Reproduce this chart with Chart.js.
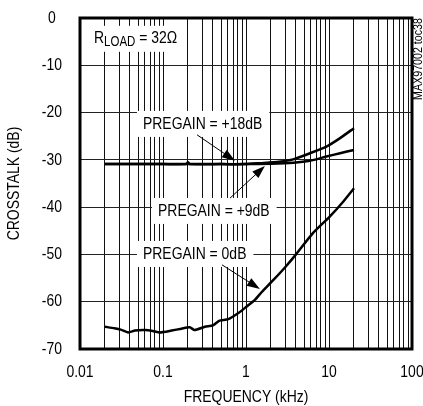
<!DOCTYPE html>
<html>
<head>
<meta charset="utf-8">
<script src="https://cdn.jsdelivr.net/npm/chart.js@4.4.0/dist/chart.umd.min.js"></script>
<style>
  html, body { margin: 0; padding: 0; background: #fff; }
  canvas { display: block; }
</style>
</head>
<body>
<canvas id="crosstalkChart" width="423" height="406"></canvas>
<script>
// Crosstalk vs frequency (kHz, dB)
const freqGain0 = [0.02, 0.026, 0.031, 0.038, 0.046, 0.061, 0.075, 0.092, 0.127, 0.167, 0.21, 0.24, 0.32, 0.40, 0.48, 0.61, 0.81, 1.02, 1.28, 1.54, 2.14, 3.0, 3.96, 6.4, 10.2, 14.9, 20];
const crosstalkGain0 = [-65.3, -65.6, -65.9, -66.5, -66.1, -66.0, -66.2, -66.5, -66.1, -65.7, -65.4, -66.0, -65.3, -65.0, -64.0, -63.7, -62.4, -61.0, -59.6, -58.0, -55.4, -52.6, -50.1, -45.5, -42.0, -38.8, -36.0];

const freqGain9 = [0.02, 0.05, 0.1, 0.2, 0.5, 1, 2, 3.7, 5.9, 9.3, 13.6, 20];
const crosstalkGain9 = [-30.9, -30.9, -30.9, -30.9, -30.9, -30.9, -30.8, -30.6, -30.2, -29.3, -28.6, -27.9];

const freqGain18 = [0.02, 0.05, 0.1, 0.19, 0.2, 0.21, 0.5, 1, 1.47, 2.5, 3.7, 5.9, 9.3, 13.6, 20];
const crosstalkGain18 = [-30.9, -30.9, -30.9, -30.9, -30.5, -30.9, -30.9, -30.9, -30.7, -30.4, -29.9, -28.6, -27.2, -25.4, -23.3];

// axis ticks
const xDecades = [0.01, 0.1, 1, 10, 100];
const xTickLabels = ['0.01', '0.1', '1', '10', '100'];
const yTickValues = [0, -10, -20, -30, -40, -50, -60, -70];

const FONT = "'Liberation Sans', Arial, sans-serif";
const SQUEEZE = 0.82; // no narrow face installed, squeeze Liberation Sans like Arial Narrow

// gridlines at 1..9 of every decade
const xGridValues = [];
for (let i = 0; i < xDecades.length - 1; i++) {
    for (let k = 1; k <= 9; k++) {
        xGridValues.push(xDecades[i] * k);
    }
}
xGridValues.push(xDecades[xDecades.length - 1]);

function toPoints(xs, ys) {
    return xs.map((x, i) => ({ x: x, y: ys[i] }));
}

// curve callouts, anchored in data units (kHz, dB)
const callouts = [
    { text: 'PREGAIN = +18dB', at: [0.0574, -22.4], tail: [0.257, -24.7], tip: [0.736, -30.2] },
    { text: 'PREGAIN = +9dB', at: [0.0871, -40.8], tail: [0.641, -38.1], tip: [1.69, -31.3] },
    { text: 'PREGAIN = 0dB', at: [0.0574, -49.9], tail: [0.514, -52.2], tip: [1.47, -57.3] }
];

function drawArrow(ctx, x1, y1, x2, y2) {
    const ang = Math.atan2(y2 - y1, x2 - x1);
    const len = 13, half = 4.5;
    ctx.beginPath();
    ctx.moveTo(x1, y1);
    ctx.lineTo(x2 - len * 0.8 * Math.cos(ang), y2 - len * 0.8 * Math.sin(ang));
    ctx.stroke();
    ctx.beginPath();
    ctx.moveTo(x2, y2);
    ctx.lineTo(x2 - len * Math.cos(ang) + half * Math.sin(ang), y2 - len * Math.sin(ang) - half * Math.cos(ang));
    ctx.lineTo(x2 - len * Math.cos(ang) - half * Math.sin(ang), y2 - len * Math.sin(ang) + half * Math.cos(ang));
    ctx.closePath();
    ctx.fill();
}

function whiteBox(ctx, x, y, w) {
    ctx.fillStyle = '#fff';
    ctx.fillRect(x - 6, y - 13, w + 13, 26);
    ctx.fillStyle = '#000';
}

const annotationPlugin = {
    id: 'annotations',
    afterDatasetsDraw(chart) {
        const ctx = chart.ctx;
        const xs = chart.scales.x, ys = chart.scales.y;
        ctx.save();
        ctx.textBaseline = 'middle';
        ctx.textAlign = 'left';
        ctx.strokeStyle = '#000';
        ctx.lineWidth = 1;

        // R_LOAD label with subscript
        const rx = xs.getPixelForValue(0.01475), ry = ys.getPixelForValue(-4.4);
        ctx.font = '17px ' + FONT;
        const wR = ctx.measureText('R').width;
        const wEq = ctx.measureText(' = 32\u03A9').width;
        ctx.font = '14px ' + FONT;
        const wSub = ctx.measureText('LOAD').width;
        whiteBox(ctx, rx, ry, wR + wSub + wEq);
        ctx.font = '17px ' + FONT;
        ctx.fillText('R', rx, ry);
        ctx.font = '14px ' + FONT;
        ctx.fillText('LOAD', rx + wR, ry + 3);
        ctx.font = '17px ' + FONT;
        ctx.fillText(' = 32\u03A9', rx + wR + wSub, ry);

        callouts.forEach(c => {
            const px = xs.getPixelForValue(c.at[0]), py = ys.getPixelForValue(c.at[1]);
            ctx.font = '17px ' + FONT;
            whiteBox(ctx, px, py, ctx.measureText(c.text).width);
            ctx.fillText(c.text, px, py);
            drawArrow(ctx,
                xs.getPixelForValue(c.tail[0]), ys.getPixelForValue(c.tail[1]),
                xs.getPixelForValue(c.tip[0]), ys.getPixelForValue(c.tip[1]));
        });
        ctx.restore();
    },
    afterDraw(chart) {
        const ctx = chart.ctx;
        const a = chart.chartArea;
        ctx.save();
        ctx.strokeStyle = '#000';
        ctx.lineWidth = 3;
        ctx.strokeRect(a.left, a.top, a.right - a.left, a.bottom - a.top);

        // figure tag on the right edge
        ctx.translate(418, 59);
        ctx.rotate(-Math.PI / 2);
        ctx.font = '13px ' + FONT;
        ctx.textAlign = 'center';
        ctx.textBaseline = 'middle';
        ctx.fillStyle = '#000';
        ctx.fillText('MAX97002 toc38', 0, 0);
        ctx.restore();
    }
};

const curveStyle = {
    borderColor: '#000',
    backgroundColor: '#000',
    borderWidth: 2.5,
    pointRadius: 0,
    fill: false,
    tension: 0.2
};

const ctx1 = document.getElementById('crosstalkChart').getContext('2d');

// condense every piece of text drawn on this canvas
const baseFillText = ctx1.fillText.bind(ctx1);
const baseMeasureText = ctx1.measureText.bind(ctx1);
ctx1.fillText = function (text, x, y, maxWidth) {
    ctx1.save();
    ctx1.translate(x, y);
    ctx1.scale(SQUEEZE, 1);
    if (maxWidth !== undefined) {
        baseFillText(text, 0, 0, maxWidth / SQUEEZE);
    } else {
        baseFillText(text, 0, 0);
    }
    ctx1.restore();
};
ctx1.measureText = function (text) {
    const m = baseMeasureText(text);
    return {
        width: m.width * SQUEEZE,
        actualBoundingBoxAscent: m.actualBoundingBoxAscent,
        actualBoundingBoxDescent: m.actualBoundingBoxDescent,
        actualBoundingBoxLeft: m.actualBoundingBoxLeft * SQUEEZE,
        actualBoundingBoxRight: m.actualBoundingBoxRight * SQUEEZE
    };
};

const crosstalkChart = new Chart(ctx1, {
    type: 'line',
    data: {
        datasets: [
            Object.assign({ label: 'PREGAIN = 0dB', data: toPoints(freqGain0, crosstalkGain0) }, curveStyle),
            Object.assign({ label: 'PREGAIN = +9dB', data: toPoints(freqGain9, crosstalkGain9) }, curveStyle),
            Object.assign({ label: 'PREGAIN = +18dB', data: toPoints(freqGain18, crosstalkGain18) }, curveStyle)
        ]
    },
    options: {
        responsive: false,
        devicePixelRatio: 1,
        animation: false,
        layout: { padding: { top: 18, right: 11, left: 0, bottom: 0 } },
        plugins: {
            legend: { display: false },
            tooltip: { enabled: false }
        },
        scales: {
            x: {
                type: 'logarithmic',
                min: 0.01,
                max: 100,
                afterBuildTicks: scale => { scale.ticks = xGridValues.map(v => ({ value: v })); },
                afterFit: scale => { scale.height = 57; scale.paddingLeft = 0; scale.paddingRight = 0; },
                grid: { color: '#111', lineWidth: 1, drawTicks: false },
                border: { display: false },
                ticks: {
                    autoSkip: false,
                    maxRotation: 0,
                    padding: 13,
                    color: '#000',
                    font: { family: FONT, size: 17 },
                    callback: value => {
                        const i = xDecades.findIndex(d => Math.abs(value / d - 1) < 1e-6);
                        return i >= 0 ? xTickLabels[i] : '';
                    }
                },
                title: {
                    display: true,
                    text: 'FREQUENCY (kHz)',
                    color: '#000',
                    padding: 0,
                    font: { family: FONT, size: 17, lineHeight: 1 }
                }
            },
            y: {
                min: -70,
                max: 0,
                afterBuildTicks: scale => { scale.ticks = yTickValues.map(v => ({ value: v })); },
                afterFit: scale => { scale.width = 80; scale.paddingTop = 0; scale.paddingBottom = 0; },
                grid: { color: '#222', lineWidth: 1, drawTicks: false },
                border: { display: false },
                ticks: {
                    padding: 18,
                    crossAlign: 'center',
                    color: '#000',
                    font: { family: FONT, size: 17 }
                },
                title: {
                    display: true,
                    text: 'CROSSTALK (dB)',
                    color: '#000',
                    padding: { top: 6, bottom: 0 },
                    font: { family: FONT, size: 17, lineHeight: 1 }
                }
            }
        }
    },
    plugins: [annotationPlugin]
});
</script>
</body>
</html>
